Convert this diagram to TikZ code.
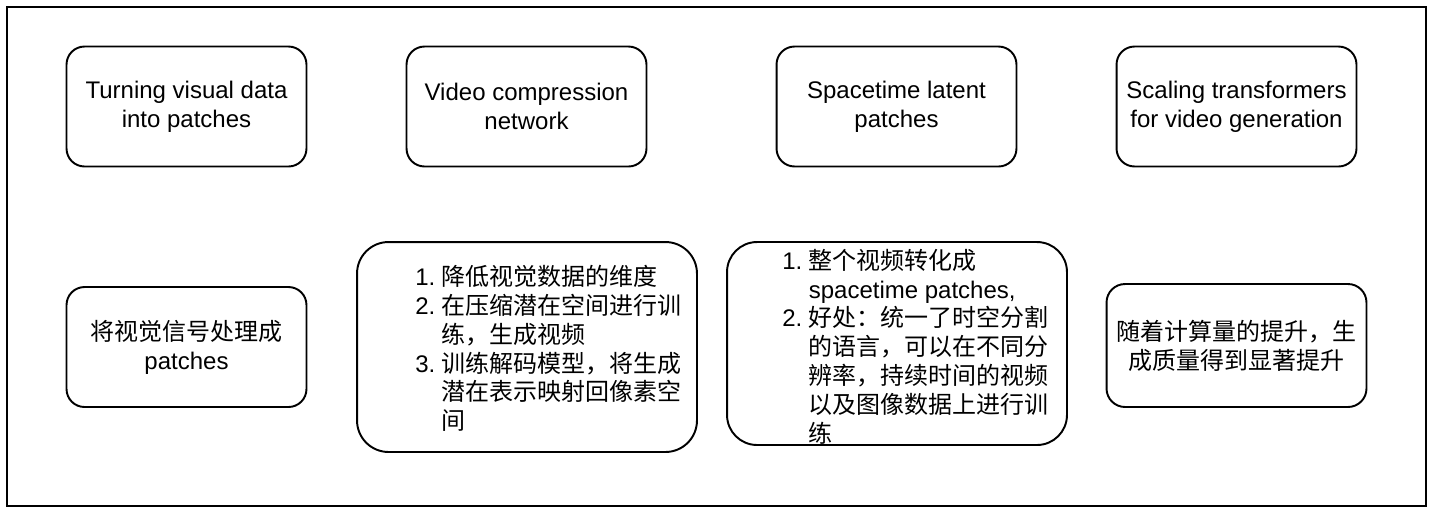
\documentclass[tikz,border=0pt]{standalone}
\usepackage{fontspec}
\setmainfont{Liberation Sans}
\newfontfamily\cjk{Noto Sans CJK SC}
\newcommand{\itemno}[1]{\makebox[0.53cm][l]{#1}}
\newcommand{\itemgap}{\hspace*{0.53cm}}

\begin{document}
\begin{tikzpicture}[x=0.02cm, y=-0.02cm,
    box/.style={draw, line width=1.1pt, rounded corners=0.36cm, align=center, inner sep=0pt, font=\fontsize{13.66}{16.4}\selectfont},
    smallbox/.style={box, minimum width=4.8cm, minimum height=2.4cm},
    listtext/.style={anchor=west, align=left, inner sep=0pt, font=\fontsize{13.66}{16.4}\selectfont}
]
\useasboundingbox (0,0) rectangle (1432,512);

% Frame
\draw[line width=1.3pt] (7,7) rectangle (1426,506);

% Topics
\node[smallbox] (turning) at (186.5,106.5) {Turning visual data\\into patches};
\node[smallbox] (compress) at (526.5,106.5) {Video compression\\network};
\node[smallbox] (latent) at (896.5,106.5) {Spacetime latent\\patches};
\node[smallbox] (scaling) at (1236.5,106.5) {Scaling transformers\\for video generation};

% Notes
\node[smallbox] (turningzh) at (186.5,347) {{\cjk 将视觉信号处理成}\\patches};
\node[box, minimum width=6.8cm, minimum height=4.2cm, rounded corners=0.63cm] (compresszh) at (527,347) {};
\node[listtext] (compresslist) at (415,348.5) {\itemno{1.}{\cjk 降低视觉数据的维度}\\
    \itemno{2.}{\cjk 在压缩潜在空间进行训}\\
    \itemgap{\cjk 练，生成视频}\\
    \itemno{3.}{\cjk 训练解码模型，将生成}\\
    \itemgap{\cjk 潜在表示映射回像素空}\\
    \itemgap{\cjk 间}};
\node[box, minimum width=6.8cm, minimum height=4.06cm, rounded corners=0.6cm] (latentzh) at (897,343.5) {};
\node[listtext] (latentlist) at (782,346.5) {\itemno{1.}{\cjk 整个视频转化成}\\
    \itemgap spacetime patches,\\
    \itemno{2.}{\cjk 好处：统一了时空分割}\\
    \itemgap{\cjk 的语言，可以在不同分}\\
    \itemgap{\cjk 辨率，持续时间的视频}\\
    \itemgap{\cjk 以及图像数据上进行训}\\
    \itemgap{\cjk 练}};
\node[box, minimum width=5.2cm, minimum height=2.46cm, rounded corners=0.37cm] (scalingzh) at (1236.5,345.5) {{\cjk 随着计算量的提升，生}\\{\cjk 成质量得到显著提升}};

\end{tikzpicture}
\end{document}
